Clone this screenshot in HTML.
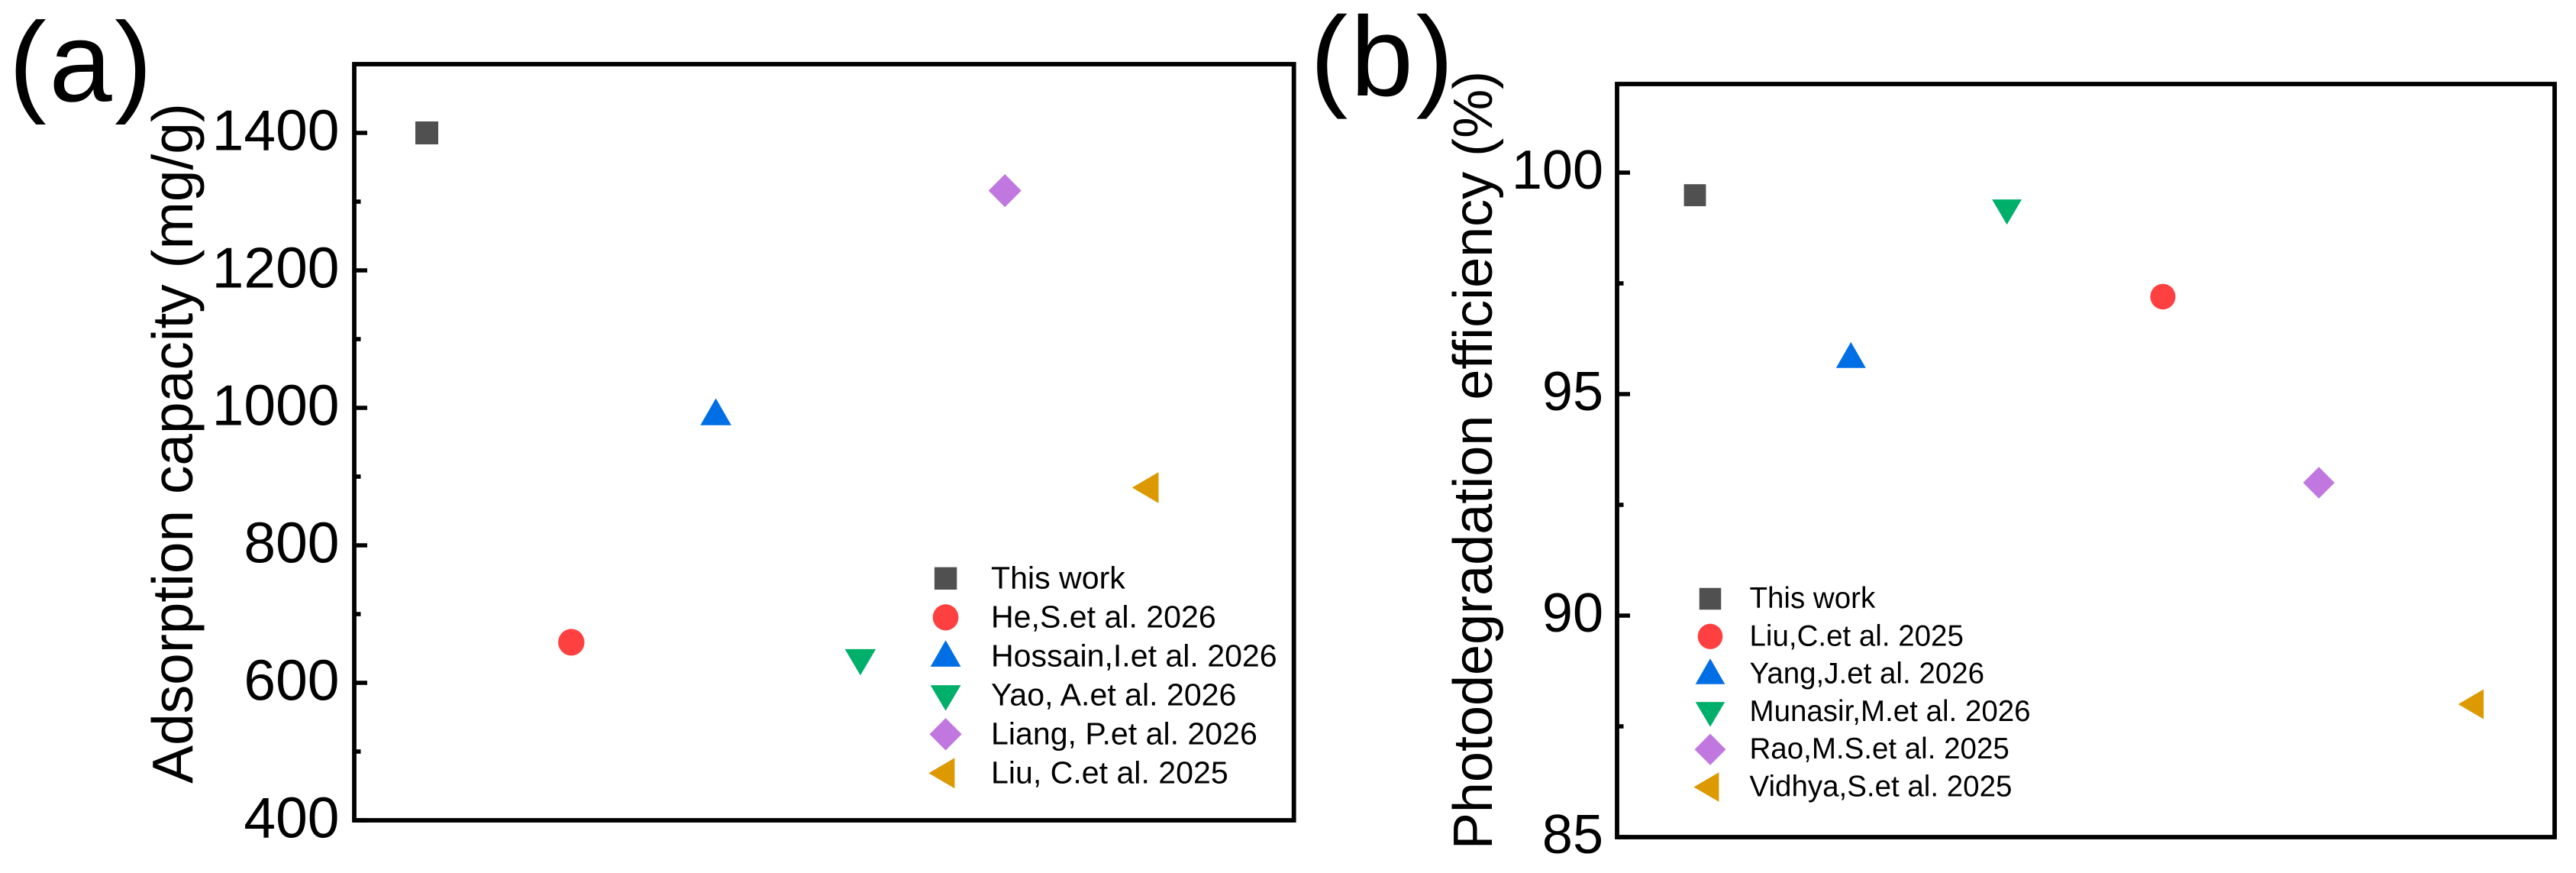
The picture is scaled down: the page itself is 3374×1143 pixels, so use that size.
<!DOCTYPE html>
<html lang="en">
<head>
<meta charset="utf-8">
<title>Adsorption capacity and photodegradation efficiency comparison</title>
<style>
html,body{margin:0;padding:0;background:#fff;}
svg{display:block;}
text{font-family:"Liberation Sans",Arial,sans-serif;fill:#000;}
</style>
</head>
<body>
<svg id="figure" xmlns="http://www.w3.org/2000/svg" width="3374" height="1143" viewBox="0 0 3374 1143">
  <rect width="3374" height="1143" fill="#ffffff"/>
  <text x="11.5" y="132.3" font-size="148" letter-spacing="3.5">(a)</text>
  <text x="1716" y="125" font-size="148" letter-spacing="3.5">(b)</text>
  <g id="panel-a"></g>
  <g id="panel-b"></g>
</svg>
<script>
// Panel (a) data
const studiesA = ["This work", "He,S.et al. 2026", "Hossain,I.et al. 2026", "Yao, A.et al. 2026", "Liang, P.et al. 2026", "Liu, C.et al. 2025"];
const valuesA = [1400, 659, 990, 634, 1316, 884];
const xOrderA = [1, 2, 3, 4, 5, 6];
const majorTicksA = [400, 600, 800, 1000, 1200, 1400];
const minorTicksA = [500, 700, 900, 1100, 1300];
const yTitleA = "Adsorption capacity (mg/g)";

// Panel (b) data
const studiesB = ["This work", "Liu,C.et al. 2025", "Yang,J.et al. 2026", "Munasir,M.et al. 2026", "Rao,M.S.et al. 2025", "Vidhya,S.et al. 2025"];
const valuesB = [99.49, 97.2, 95.82, 99.17, 93, 88];
const xOrderB = [1, 4, 2, 3, 5, 6];
const majorTicksB = [85, 90, 95, 100];
const minorTicksB = [87.5, 92.5, 97.5];
const yTitleB = "Photodegradation efficiency (%)";

const NS = "http://www.w3.org/2000/svg";
const seriesColors = ["#505050", "#ff4040", "#006fe6", "#00b06a", "#c078e0", "#dc9900"];
const seriesShapes = ["square", "circle", "up", "down", "diamond", "left"];

function make(tag, parent, attrs) {
  const el = document.createElementNS(NS, tag);
  for (const k in attrs) el.setAttribute(k, attrs[k]);
  parent.appendChild(el);
  return el;
}

function drawMarker(parent, shape, cx, cy, sx, sy, color) {
  const p = (pts) => pts.map(q => (cx + q[0] * sx).toFixed(2) + "," + (cy + q[1] * sy).toFixed(2)).join(" ");
  if (shape === "circle") {
    return make("ellipse", parent, { cx: cx, cy: cy, rx: 17.2 * sx, ry: 17.5 * sy, fill: color });
  }
  if (shape === "square") {
    return make("rect", parent, { x: cx - 15 * sx, y: cy - 15 * sy, width: 30 * sx, height: 30 * sy, fill: color });
  }
  const outlines = {
    up: [[0, -21.5], [20.3, 13.8], [-20.3, 13.8]],
    down: [[-20.3, -13.5], [20.3, -13.5], [0, 20.8]],
    diamond: [[0, -21.6], [21.5, 0], [0, 21.6], [-21.5, 0]],
    left: [[-22.7, 0], [12, -20.3], [12, 20.3]]
  };
  return make("polygon", parent, { points: p(outlines[shape]), fill: color });
}

function drawPanel(root, cfg) {
  const yScale = (v) => cfg.bottom - (v - cfg.yMin) * (cfg.bottom - cfg.top) / (cfg.yMax - cfg.yMin);
  const xScale = (i) => cfg.x1 + (i - 1) * cfg.xStep;

  // ticks
  cfg.minor.forEach(function (v) {
    const t = make("line", root, { x1: cfg.left, x2: cfg.left + 8.5, y1: yScale(v), y2: yScale(v), stroke: "#000", "stroke-width": 5.6 });
    
    
  });
  cfg.major.forEach(function (v) {
    const y = yScale(v);
    const t = make("line", root, { x1: cfg.left, x2: cfg.left + 17, y1: y, y2: y, stroke: "#000", "stroke-width": 5.6 });
    
    
    const lab = make("text", root, { x: cfg.labelRight, y: y + cfg.labelDy, "font-size": cfg.labelSize, "text-anchor": "end" });
    lab.textContent = String(v);
    
    
  });

  // frame
  const frame = make("rect", root, { x: cfg.left, y: cfg.top, width: cfg.right - cfg.left, height: cfg.bottom - cfg.top, fill: "none", stroke: "#000", "stroke-width": 5.8 });
  
  

  // y title
  const title = make("text", root, {
    transform: "translate(" + cfg.titleX + "," + cfg.titleY + ") rotate(-90)",
    "font-size": cfg.titleSize, "text-anchor": "middle"
  });
  title.textContent = cfg.yTitle;
  
  

  // data points
  cfg.values.forEach(function (v, i) {
    const m = drawMarker(root, seriesShapes[i], xScale(cfg.order[i]), yScale(v), cfg.markerScale, cfg.markerScale, seriesColors[i]);
    
    
  });

  // legend
  const lg = make("g", root, {});
  
  
  cfg.studies.forEach(function (name, i) {
    const row = make("g", lg, {});
    
    
    const cy = cfg.legendTop + i * cfg.legendStep;
    const mk = drawMarker(row, seriesShapes[i], cfg.legendMarkerX, cy, cfg.legendScale, cfg.legendScale, seriesColors[i]);
    
    
    const tx = make("text", row, { x: cfg.legendTextX, y: cy + cfg.legendBaseDy, "font-size": cfg.legendFont });
    tx.textContent = name;
    
    
  });
}

drawPanel(document.getElementById("panel-a"), {
  left: 464, right: 1694.7, top: 84, bottom: 1074, yMin: 400, yMax: 1500,
  x1: 559, xStep: 189.3, major: majorTicksA, minor: minorTicksA, values: valuesA, order: xOrderA,
  studies: studiesA, yTitle: yTitleA, labelRight: 444.5, labelDy: 22.3, labelSize: 75,
  titleX: 252, titleY: 580.5, titleSize: 74.9, markerScale: 1,
  legendTop: 757.3, legendStep: 51, legendMarkerX: 1238.6, legendScale: 0.98,
  legendTextX: 1298, legendBaseDy: 13.4, legendFont: 41.1
});

drawPanel(document.getElementById("panel-b"), {
  left: 2118, right: 3346, top: 110, bottom: 1096, yMin: 85, yMax: 102,
  x1: 2220, xStep: 204.3, major: majorTicksB, minor: minorTicksB, values: valuesB, order: xOrderB,
  studies: studiesB, yTitle: yTitleB, labelRight: 2100, labelDy: 21, labelSize: 72,
  titleX: 1954, titleY: 602.5, titleSize: 72, markerScale: 0.96,
  legendTop: 784, legendStep: 49.3, legendMarkerX: 2240, legendScale: 0.95,
  legendTextX: 2291.5, legendBaseDy: 12, legendFont: 38.5
});
</script>
</body>
</html>
